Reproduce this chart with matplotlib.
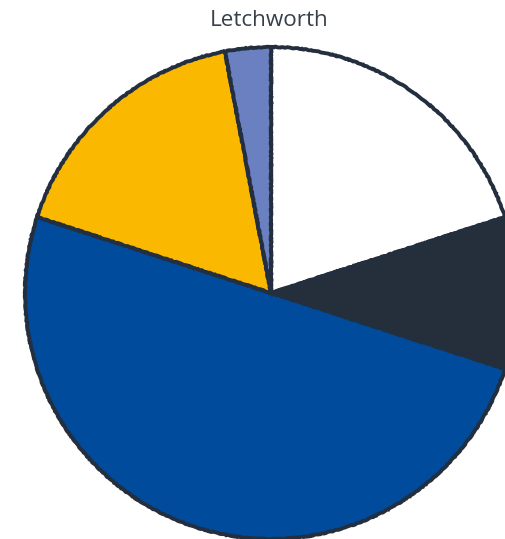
import numpy as np
import matplotlib
matplotlib.use("Agg")
import matplotlib.pyplot as plt

# slice data, clockwise from 12 o'clock
labels = ["A", "B", "C", "D", "E"]
values = [20, 10, 50, 17, 3]
colors = ["#ffffff", "#252f3b", "#004b9b", "#fab800", "#6a80c0"]

fig = plt.figure(figsize=(5.06, 5.39), dpi=100)
ax = fig.add_axes([0, 0, 1, 1])

wedges, _ = ax.pie(values, colors=colors, startangle=90, counterclock=False,
                   radius=1.0, center=(0, 0),
                   wedgeprops=dict(edgecolor="#232f3e", linewidth=2.8))
for w in wedges:
    w.set_sketch_params(scale=0.35, length=12, randomness=8)

# pie centre at (271, 293) px, radius ~246 px
r_px = 246.0
ax.set_xlim(-271 / r_px, (506 - 271) / r_px)
ax.set_ylim(-(539 - 293) / r_px, 293 / r_px)
ax.set_aspect("auto")
ax.axis("off")

fig.text(269 / 506, 1 - 21 / 539, "Letchworth", ha="center", va="center",
         fontsize=16.2, color="#36404b", family=["Open Sans", "DejaVu Sans"])

fig.savefig("out.png", dpi=100)
